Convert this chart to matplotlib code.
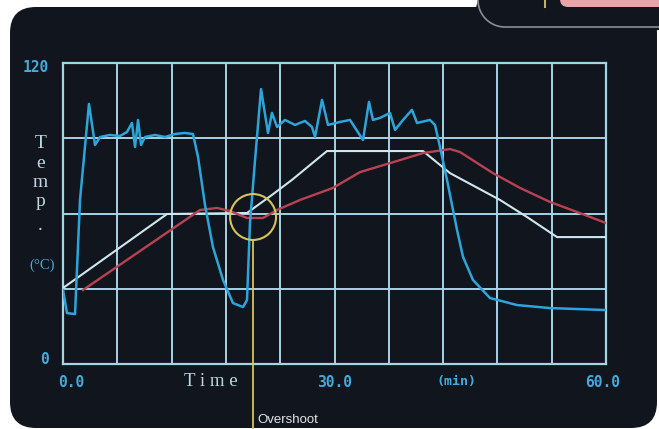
import numpy as np
import matplotlib
matplotlib.use("Agg")
import matplotlib.pyplot as plt
from matplotlib.patches import FancyBboxPatch, Ellipse, Polygon
from matplotlib.transforms import ScaledTranslation, blended_transform_factory

# --- data (time in min, temperature in degC) ---
heater_t = [0.0, 0.44, 1.33, 1.88, 2.87, 3.54, 4.09, 5.19, 6.30, 7.07, 7.62, 7.96, 8.29,
            8.62, 9.06, 10.17, 11.27, 12.38, 13.48, 14.36, 14.92, 15.69, 16.57, 17.68,
            18.78, 19.89, 20.33, 20.66, 21.22, 21.88, 22.65, 23.09, 23.65, 24.53, 25.64,
            26.74, 27.51, 27.85, 28.62, 29.28, 30.61, 31.71, 33.15, 33.81, 34.25, 35.03,
            36.13, 36.69, 37.57, 38.56, 39.12, 40.55, 41.10, 41.66, 42.43, 43.54, 44.20,
            45.30, 47.18, 50.17, 53.81, 60.0]
heater_v = [29.5, 20.3, 19.9, 65.4, 103.7, 87.3, 90.5, 91.3, 90.9, 92.5, 96.1, 86.5, 97.3,
            87.3, 90.5, 91.3, 90.5, 91.7, 92.1, 91.7, 82.5, 63.4, 46.6, 33.5,
            24.3, 22.7, 25.5, 56.2, 81.3, 109.6, 92.1, 100.1, 94.5, 97.3, 95.3,
            96.9, 94.5, 90.5, 105.3, 95.3, 96.5, 97.3, 89.3, 104.5, 97.3, 98.1,
            100.1, 93.3, 97.3, 101.3, 96.1, 97.3, 95.3, 86.5, 73.4, 53.4, 42.7,
            33.5, 26.3, 23.5, 22.3, 21.5]

setpoint_t = [0.0, 11.49, 20.33, 23.09, 25.30, 29.17, 39.78, 42.76, 48.29, 51.27, 54.59, 60.0]
setpoint_v = [30.3, 59.8, 60.2, 67.4, 73.4, 84.9, 84.9, 76.1, 65.4, 58.6, 50.6, 50.6]

product_t = [2.21, 15.14, 17.02, 18.45, 20.33, 22.10, 23.65, 26.19, 29.83, 32.82, 37.24,
             39.78, 42.76, 43.87, 47.51, 50.50, 53.81, 56.80, 60.0]
product_v = [29.5, 61.4, 62.2, 61.0, 58.2, 58.2, 61.4, 65.4, 70.2, 76.5, 81.3,
             84.1, 85.7, 84.5, 76.1, 70.2, 64.6, 60.6, 56.2]

x_ticks = np.arange(0, 61, 6)
x_labels = ["0.0", "", "", "", "", "30.0", "", "", "", "", "60.0"]
y_ticks = np.arange(0, 121, 30)
y_labels = ["0", "", "", "", "120"]

overshoot_t, overshoot_v = 21.0, 58.6

# colours
screen = "#10151e"
grid_c = "#a6d4e4"
cyan = "#2ba5da"
white = "#cfe6ee"
red = "#b94252"
yellow = "#d8c35a"
label_c = "#45aadc"
text_c = "#bcd8e2"

W, H = 659, 429
fig = plt.figure(figsize=(W / 100, H / 100), dpi=100, facecolor="white")

# background: the photographed screen
bg = fig.add_axes([0, 0, 1, 1], zorder=0)
bg.set_xlim(0, W)
bg.set_ylim(H, 0)
bg.axis("off")
bg.add_patch(FancyBboxPatch((10, 7), 647, 421, boxstyle="round,pad=0,rounding_size=26",
                            facecolor=screen, edgecolor="none"))
bg.add_patch(Polygon([(478, 0), (W, 0), (W, 30), (470, 30)], closed=True,
                     facecolor=screen, edgecolor="none"))
ang = np.linspace(np.pi, np.pi * 1.5, 30)
cx, cy = 505, 0
bg.plot(np.r_[cx + 27 * np.cos(ang), W], np.r_[cy - 27 * np.sin(ang), 27],
        color="#8a8f96", lw=1.2)
bg.add_patch(FancyBboxPatch((560, -10), 120, 17, boxstyle="round,pad=0,rounding_size=8",
                            facecolor="#e8a4a8", edgecolor="none"))
bg.plot([545, 545], [0, 7], color="#c8b060", lw=1.5)

# main plot
ax = fig.add_axes([63 / W, 1 - 364 / H, 543 / W, 301 / H], zorder=1)
ax.set_facecolor("none")
ax.set_xlim(0, 60)
ax.set_ylim(0, 120)

ax.set_xticks(x_ticks)
ax.set_xticklabels(x_labels)
ax.set_yticks(y_ticks)
ax.set_yticklabels(y_labels)
ax.tick_params(length=0, colors=label_c, labelsize=10.5, pad=8)
ax.tick_params(axis="y", pad=10)
for lab in ax.get_xticklabels() + ax.get_yticklabels():
    lab.set_family("DejaVu Sans Mono")
    lab.set_weight("bold")
xl = ax.get_xticklabels()
xl[0].set_transform(xl[0].get_transform() + ScaledTranslation(8 / 100, 0, fig.dpi_scale_trans))
xl[-1].set_transform(xl[-1].get_transform() + ScaledTranslation(-3 / 100, 0, fig.dpi_scale_trans))
yl = ax.get_yticklabels()
yl[0].set_transform(yl[0].get_transform() + ScaledTranslation(0, 6 / 100, fig.dpi_scale_trans))
yl[-1].set_transform(yl[-1].get_transform() + ScaledTranslation(0, -3 / 100, fig.dpi_scale_trans))

ax.grid(True, color=grid_c, lw=1.4)
ax.set_axisbelow(True)
for s in ax.spines.values():
    s.set_color(grid_c)
    s.set_linewidth(1.6)

ax.plot(setpoint_t, setpoint_v, color=white, lw=1.5, zorder=3)
ax.plot(product_t, product_v, color=red, lw=1.7, zorder=3)
ax.plot(heater_t, heater_v, color=cyan, lw=1.8, zorder=4)

# overshoot marker
ax.add_patch(Ellipse((overshoot_t, overshoot_v), 5.08, 18.3, fill=False,
                     edgecolor=yellow, lw=1.5, zorder=5))
ax.plot([overshoot_t, overshoot_t], [overshoot_v - 9.15, -26], color=yellow, lw=1.3,
        clip_on=False, zorder=5)
ax.text(overshoot_t + 0.5, -22.3, "Overshoot", color="#e4e4e4", fontsize=9.5,
        family="Liberation Sans", va="center", ha="left")

# axis titles, drawn like the screen's own lettering
tb = blended_transform_factory(ax.transData, ax.transAxes)
ax.text(16.3, -0.057, "T i m e", transform=tb, color=text_c, fontsize=13.5,
        family="Liberation Serif", ha="center", va="center")
ax.text(43.5, -0.057, "(min)", transform=tb, color=label_c, fontsize=9.5,
        family="DejaVu Sans Mono", weight="bold", ha="center", va="center")
for ch, yy in zip("Temp.", [0.732, 0.666, 0.603, 0.54, 0.46]):
    ax.text(-0.042, yy, ch, transform=ax.transAxes, color=text_c, fontsize=14,
            family="Liberation Serif", ha="center", va="center")
ax.text(-0.038, 0.329, "(°C)", transform=ax.transAxes, color=label_c, fontsize=10.5,
        family="Liberation Serif", ha="center", va="center")

fig.savefig("out.png", dpi=100, facecolor=fig.get_facecolor())
